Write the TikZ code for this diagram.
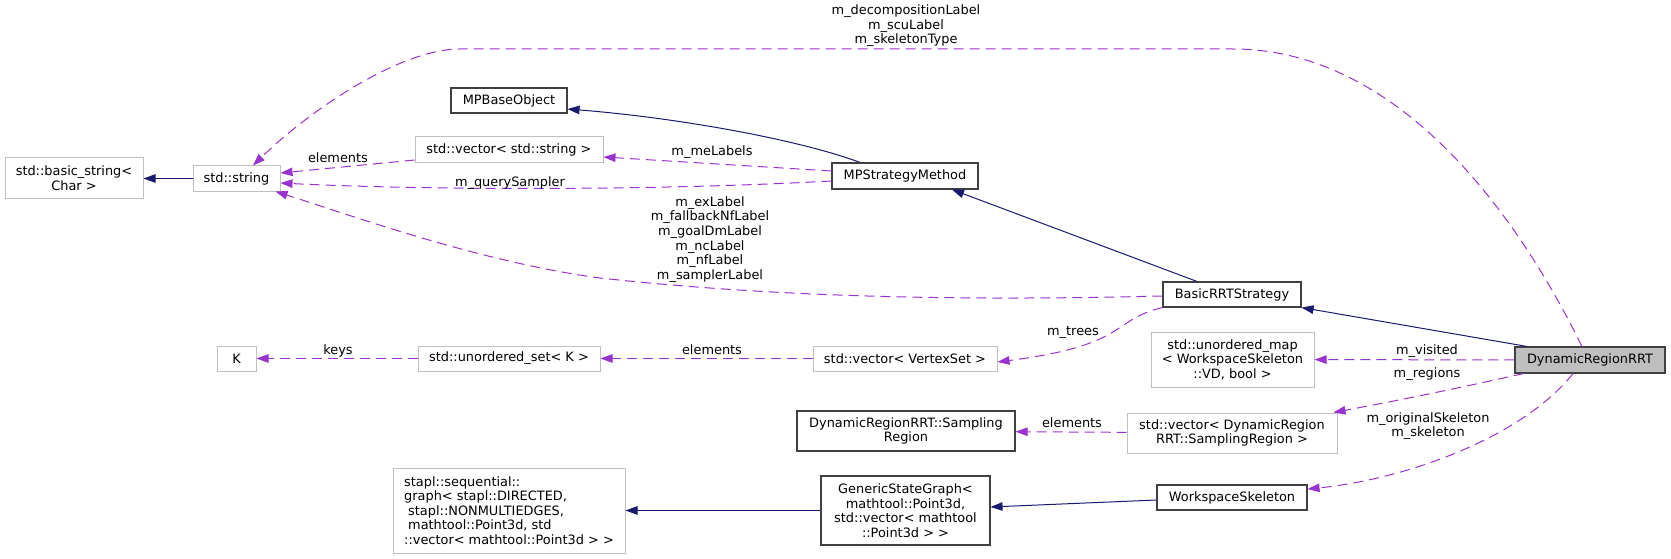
\documentclass[tikz,border=0pt]{standalone}
\usepackage{fontspec}
\setmainfont{DejaVu Sans}
\usetikzlibrary{arrows.meta}

\definecolor{inhblue}{HTML}{191970}
\definecolor{memberpurple}{HTML}{9A32CD}
\definecolor{undocgray}{HTML}{BFBFBF}

\begin{document}
\begin{tikzpicture}[x=1pt,y=-1pt,
		box/.style={
			draw,
			fill=white,
			rectangle,
			inner sep=0pt,
			align=center,
			font=\fontsize{12.9}{14.6}\selectfont
		},
		doc/.style={box,draw=black!75,line width=1.1pt},
		undoc/.style={box,draw=undocgray,line width=1pt},
		lbl/.style={inner sep=0pt,align=center,font=\fontsize{12.9}{14.6}\selectfont},
		inherit/.style={draw=inhblue,line width=1pt,-{Triangle[length=12pt,width=8.5pt]}},
		member/.style={draw=memberpurple,line width=1pt,dash pattern=on 10pt off 6pt,-{Triangle[length=12pt,width=8.5pt]}}
		]
		\useasboundingbox (0,0) rectangle (1671,559);
		% Classes
		\node[undoc,minimum width=138pt,minimum height=40pt] (bstr) at (74,178) {std::basic\_string<\\Char >};
		\node[undoc,minimum width=87pt,minimum height=25pt] (str) at (236.5,178.5) {std::string};
		\node[doc,minimum width=116pt,minimum height=25pt] (mpbase) at (509,100.5) {MPBaseObject};
		\node[undoc,minimum width=188pt,minimum height=26pt] (vecstr) at (509,150) {std::vector< std::string >};
		\node[doc,minimum width=146pt,minimum height=26pt] (mpsm) at (905,176) {MPStrategyMethod};
		\node[doc,minimum width=138pt,minimum height=25pt] (basic) at (1232,294.5) {BasicRRTStrategy};
		\node[undoc,minimum width=39pt,minimum height=25pt] (kkey) at (236.5,358.5) {K};
		\node[undoc,minimum width=182pt,minimum height=25pt] (uset) at (509,358.5) {std::unordered\_set< K >};
		\node[undoc,minimum width=184pt,minimum height=25pt] (vvs) at (905,358.5) {std::vector< VertexSet >};
		\node[undoc,minimum width=163pt,minimum height=55pt] (umap) at (1232.5,359.5) {std::unordered\_map\\< WorkspaceSkeleton\\::VD, bool >};
		\node[doc,fill=undocgray,minimum width=150pt,minimum height=26pt] (drrrt) at (1590,360) {DynamicRegionRRT};
		\node[doc,minimum width=218pt,minimum height=40pt] (sreg) at (906,431) {DynamicRegionRRT::Sampling\\Region};
		\node[undoc,minimum width=210pt,minimum height=40pt] (vdr) at (1232,433) {std::vector< DynamicRegion\\RRT::SamplingRegion >};
		\node[undoc,align=left,minimum width=232pt,minimum height=85pt] (stapl) at (509,510.5) {stapl::sequential::\\graph< stapl::DIRECTED,\\\hspace*{4pt}stapl::NONMULTIEDGES,\\\hspace*{4pt}mathtool::Point3d, std\\::vector< mathtool::Point3d > >};
		\node[doc,minimum width=169pt,minimum height=69pt] (gsg) at (905.5,510.5) {GenericStateGraph<\\mathtool::Point3d,\\std::vector< mathtool\\::Point3d > >};
		\node[doc,minimum width=150pt,minimum height=25pt] (wss) at (1232,497.5) {WorkspaceSkeleton};
		% Inheritance
		\draw[inherit] (str.west) -- (str.west -| bstr.east);
		\draw[inherit] ([xshift=-45pt]mpsm.north) .. controls (800,140) and (680,118) .. ([yshift=-8.5pt]mpbase.east);
		\draw[inherit] ([xshift=-35pt]basic.north) -- ([xshift=47pt]mpsm.south);
		\draw[inherit] ([xshift=-63pt]drrrt.north) -- (basic.south east);
		\draw[inherit] ([yshift=-2.5pt]wss.west) -- ([yshift=3.5pt]gsg.east);
		\draw[inherit] (gsg.west) -- (stapl.east);
		% Members
		\draw[member] ([yshift=-10pt]vecstr.west) -- ([yshift=5.5pt]str.east);
		\draw[member] ([yshift=5pt]mpsm.west) -- ([yshift=-7pt]vecstr.east);
		\draw[member] ([yshift=-5pt]mpsm.west) .. controls (650,191) and (420,190) .. ([yshift=-4.5pt]str.east);
		\draw[member] ([yshift=-1.5pt]basic.west) .. controls (1000,300) and (800,300) .. (600,278) .. controls (480,262) and (350,215) .. ([xshift=-5pt]str.south east);
		\draw[member] (basic.south west) .. controls (1110,320) and (1130,345) .. ([yshift=-3.5pt]vvs.east);
		\draw[member] (vvs) -- (uset);
		\draw[member] (uset) -- (kkey);
		\draw[member] ([xshift=-8pt]drrrt.north) .. controls (1500,180) and (1380,49) .. (1233,49) -- (460,49) .. controls (400,49) and (310,110) .. ([xshift=16.5pt]str.north);
		\draw[member] (drrrt) -- (umap);
		\draw[member] ([xshift=9pt]drrrt.south west) .. controls (1450,390) and (1400,400) .. ([xshift=-4pt]vdr.north east);
		\draw[member] ([xshift=-17pt]drrrt.south) .. controls (1520,440) and (1400,480) .. ([yshift=8.5pt]wss.east);
		\draw[member] (vdr) -- (sreg);
		% Member labels
		\node[lbl] (l-elemstr) at (338,158) {elements};
		\node[lbl] (l-melabels) at (712,152) {m\_meLabels};
		\node[lbl] (l-query) at (510,183) {m\_querySampler};
		\node[lbl] (l-labels) at (710,239.5) {m\_exLabel\\m\_fallbackNfLabel\\m\_goalDmLabel\\m\_ncLabel\\m\_nfLabel\\m\_samplerLabel};
		\node[lbl] (l-trees) at (1073,332) {m\_trees};
		\node[lbl] (l-elemset) at (712,350) {elements};
		\node[lbl] (l-keys) at (338,351) {keys};
		\node[lbl] (l-top) at (906,26) {m\_decompositionLabel\\m\_scuLabel\\m\_skeletonType};
		\node[lbl] (l-visited) at (1427,351) {m\_visited};
		\node[lbl] (l-regions) at (1427,374) {m\_regions};
		\node[lbl] (l-skel) at (1428,426) {m\_originalSkeleton\\m\_skeleton};
		\node[lbl] (l-elemreg) at (1072,423) {elements};
\end{tikzpicture}
\end{document}
